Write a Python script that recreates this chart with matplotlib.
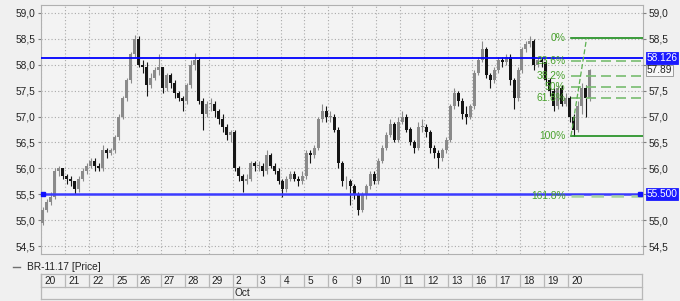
import matplotlib
matplotlib.use("Agg")
import matplotlib.pyplot as plt
import matplotlib.transforms as mtransforms
from matplotlib.ticker import FuncFormatter
import numpy as np

plt.rcParams['font.family'] = ['Liberation Sans', 'DejaVu Sans']

# trading days shown on the date strip
day_labels = ["20", "21", "22", "25", "26", "27", "28", "29",
              "2", "3", "4", "5", "6", "9", "10", "11", "12", "13",
              "16", "17", "18", "19", "20"]
month_label = "Oct"
month_start = 8          # index of 2 Oct

# intraday candles, 6 per day (open of first bar, then close/high/low)
open0 = 54.95
close = [
    55.20, 55.35, 55.45, 55.95, 56.00, 55.85,
    55.80, 55.75, 55.60, 55.80, 55.95, 56.05,
    56.15, 56.05, 56.00, 56.35, 56.30, 56.35,
    56.60, 57.00, 57.35, 57.70, 58.20, 58.50,
    58.00, 57.95, 57.60, 57.75, 57.90, 57.95,
    57.55, 57.80, 57.65, 57.45, 57.35, 57.30,
    57.60, 58.00, 58.10, 57.30, 57.05, 57.25,
    57.25, 57.10, 56.95, 56.80, 56.65, 56.70,
    56.00, 55.85, 55.75, 55.80, 56.10, 56.05,
    56.05, 55.95, 56.25, 56.05, 55.95, 55.75,
    55.60, 55.80, 55.90, 55.80, 55.75, 55.85,
    56.30, 56.25, 56.40, 56.95, 57.10, 57.00,
    57.00, 56.75, 56.10, 55.75, 55.75, 55.65,
    55.50, 55.20, 55.50, 55.65, 55.90, 55.75,
    56.15, 56.40, 56.65, 56.85, 56.55, 56.90,
    57.00, 56.75, 56.50, 56.40, 56.80, 56.80,
    56.70, 56.40, 56.30, 56.20, 56.35, 56.55,
    57.20, 57.45, 57.30, 57.05, 57.00, 57.20,
    57.85, 58.10, 58.30, 57.80, 57.70, 57.90,
    58.10, 58.05, 58.15, 57.70, 57.35, 57.90,
    58.30, 58.40, 58.45, 58.00, 58.10, 58.05,
    57.70, 57.50, 57.20, 57.55, 57.25, 57.35,
    57.00, 56.75, 57.20, 57.55, 57.35, 57.89,
]
high = [
    55.25, 55.40, 55.55, 56.00, 56.05, 56.00,
    55.90, 55.85, 55.75, 55.85, 56.00, 56.10,
    56.20, 56.20, 56.10, 56.45, 56.40, 56.40,
    56.65, 57.05, 57.40, 57.75, 58.25, 58.58,
    58.55, 58.10, 58.05, 57.85, 57.95, 58.20,
    57.95, 57.85, 57.85, 57.70, 57.50, 57.40,
    57.65, 58.10, 58.22, 58.15, 57.35, 57.30,
    57.35, 57.30, 57.15, 57.05, 56.85, 56.75,
    56.75, 56.05, 55.90, 55.90, 56.15, 56.15,
    56.15, 56.10, 56.35, 56.30, 56.10, 56.00,
    55.80, 55.85, 55.95, 55.95, 55.85, 55.95,
    56.35, 56.35, 56.45, 57.00, 57.25, 57.20,
    57.10, 57.05, 56.80, 56.15, 55.85, 55.80,
    55.70, 55.55, 55.55, 55.70, 55.95, 55.95,
    56.20, 56.45, 56.70, 56.95, 56.90, 57.00,
    57.10, 57.05, 56.80, 56.55, 56.90, 56.95,
    56.85, 56.75, 56.45, 56.35, 56.40, 56.60,
    57.25, 57.55, 57.50, 57.35, 57.20, 57.25,
    57.90, 58.15, 58.45, 58.35, 57.85, 57.95,
    58.15, 58.15, 58.20, 58.20, 57.75, 57.95,
    58.35, 58.45, 58.55, 58.50, 58.15, 58.15,
    58.10, 57.75, 57.55, 57.60, 57.60, 57.45,
    57.40, 57.05, 57.30, 57.65, 57.60, 57.92,
]
low = [
    54.90, 55.15, 55.30, 55.40, 55.85, 55.80,
    55.70, 55.65, 55.50, 55.55, 55.75, 55.90,
    56.00, 55.95, 55.95, 55.95, 56.20, 56.25,
    56.30, 56.55, 56.95, 57.30, 57.65, 58.15,
    57.95, 57.85, 57.40, 57.55, 57.70, 57.80,
    57.45, 57.50, 57.55, 57.35, 57.30, 57.10,
    57.25, 57.55, 57.90, 57.25, 56.75, 57.00,
    57.10, 57.00, 56.85, 56.70, 56.55, 56.50,
    55.95, 55.75, 55.55, 55.70, 55.75, 55.95,
    55.95, 55.85, 55.90, 56.00, 55.90, 55.70,
    55.45, 55.55, 55.75, 55.75, 55.65, 55.70,
    55.80, 56.10, 56.20, 56.35, 56.90, 56.90,
    56.90, 56.70, 56.00, 55.65, 55.60, 55.30,
    55.40, 55.10, 55.15, 55.40, 55.60, 55.70,
    55.70, 56.10, 56.35, 56.60, 56.50, 56.50,
    56.85, 56.70, 56.45, 56.30, 56.35, 56.70,
    56.60, 56.30, 56.20, 56.00, 56.15, 56.30,
    56.50, 57.15, 57.20, 56.95, 56.85, 56.95,
    57.15, 57.80, 58.05, 57.75, 57.55, 57.65,
    57.85, 57.95, 58.00, 57.60, 57.15, 57.30,
    57.85, 58.25, 58.35, 57.90, 57.95, 57.95,
    57.60, 57.40, 57.10, 57.15, 57.20, 57.20,
    56.90, 56.62, 56.70, 57.05, 57.00, 57.30,
]

# horizontal levels and fibonacci retracement
resist = 58.126
support = 55.500
last_price = 57.89
fib_names = ["0%", "23.6%", "38.2%", "50%", "61.8%", "100%", "161.8%"]
fib_levels = [58.51, 58.07, 57.79, 57.57, 57.35, 56.63, 55.47]
fib_trend = ([22.13, 22.78], [56.63, 58.51])
price_ticks = [54.5, 55.0, 55.5, 56.0, 56.5, 57.0, 57.5, 58.0, 58.5, 59.0]

W, H = 680, 301
def fx(px): return px / W
def fy(py): return 1 - py / H

fig = plt.figure(figsize=(6.8, 3.01), dpi=100, facecolor="#f0f0f0")
ax = fig.add_axes([fx(41), fy(254), fx(643) - fx(41), fy(5) - fy(254)])
ax.set_facecolor("#f3f3f3")

BARS = 6
DAY_PX = 23.95
xmax = (643 - 41) / DAY_PX
x = (np.arange(len(close)) + 0.5) / BARS
c = np.array(close)
o = np.array([open0] + close[:-1])
up = c >= o
cols = np.where(up, "#8a8a8a", "#151515")

ax.vlines(x, low, high, colors=cols, lw=0.8, zorder=3)
ax.bar(x, np.maximum(np.abs(c - o), 0.012), bottom=np.minimum(o, c),
       width=0.75 / BARS, color=cols, lw=0, zorder=3)

# levels
ax.axhline(resist, color="#0000ff", lw=1.3, zorder=4)
ax.axhline(support, color="#3a3aff", lw=1.8, zorder=4)
ax.plot([0.1, xmax - 0.12], [support, support], "s", color="#1010ff",
        ms=3.5, zorder=5, clip_on=False)

# fibonacci
for name, lv in zip(fib_names, fib_levels):
    if name in ("0%", "100%"):
        ax.plot([fib_trend[0][0], xmax], [lv, lv], color="#1c8c1c", lw=1.2, zorder=4)
    elif name == "161.8%":
        ax.plot([fib_trend[0][0], xmax], [lv, lv], color="#a8d4a0", lw=1.8,
                dashes=(5, 3), zorder=4)
    else:
        ax.plot([fib_trend[0][0], xmax], [lv, lv], color="#78bc70", lw=1.2,
                dashes=(6, 3), zorder=4)
    ax.text(21.9, lv, name, ha="right", va="center", fontsize=7.4,
            color="#46a02a", zorder=6)
ax.plot(fib_trend[0], fib_trend[1], color="#5cb050", lw=0.9, dashes=(4, 2), zorder=4)

# axes styling
fmt = lambda v: f"{v:.1f}".replace(".", ",")
ax.set_xlim(0, xmax)
ax.set_ylim(54.347, 59.153)
ax.set_xticks(range(len(day_labels)))
ax.set_xticklabels([])
ax.set_yticks(price_ticks)
ax.set_yticklabels([fmt(v) for v in price_ticks])
ax.tick_params(axis="x", length=0)
ax.tick_params(axis="y", length=2, pad=2, labelsize=7.3, color="#808080",
               labelcolor="#222222")
ax.grid(True, color="#aaaaaa", lw=0.8, dashes=(1, 2))
ax.set_axisbelow(True)
for s in ax.spines.values():
    s.set_color("#b0b0b0")
    s.set_linewidth(0.8)

# right scale: labels hidden where the level tags sit
axr = ax.twinx()
axr.set_ylim(ax.get_ylim())
axr.set_yticks(price_ticks)
axr.set_yticklabels(["" if v in (58.0, 55.5) else fmt(v) for v in price_ticks])
axr.tick_params(axis="y", length=2, pad=2, labelsize=7.3, color="#808080",
                labelcolor="#222222")
for s in axr.spines.values():
    s.set_visible(False)

# price tags on the right
tr = mtransforms.blended_transform_factory(axr.transAxes, axr.transData)
for val, txt, fc, tc, ec in [(resist, "58.126", "#1a1aff", "white", "#1a1aff"),
                             (support, "55.500", "#1a1aff", "white", "#1a1aff"),
                             (last_price, "57.89", "#f8f8f8", "#222222", "#909090")]:
    axr.text(1.006, val, txt, transform=tr, ha="left", va="center", fontsize=7.3,
             color=tc, zorder=10, clip_on=False,
             bbox=dict(boxstyle="square,pad=0.08", fc=fc, ec=ec, lw=0.6))

# legend line
fig.lines.append(plt.Line2D([fx(13), fx(20)], [fy(267), fy(267)], color="#707070",
                            lw=1, transform=fig.transFigure))
fig.text(fx(27), fy(267), "BR-11.17 [Price]", ha="left", va="center",
         fontsize=7.3, color="#222222")

# date strip
axd = fig.add_axes([fx(41), fy(299), fx(642) - fx(41), fy(274) - fy(299)])
xr = (642 - 41) / DAY_PX
axd.set_xlim(0, xr)
axd.set_ylim(0, 2)
axd.axis("off")
edge = "#b8b8b8"
for yy in (0, 1, 2):
    axd.plot([0, xr], [yy, yy], color=edge, lw=0.9, clip_on=False)
axd.plot([0, 0], [0, 2], color=edge, lw=0.9, clip_on=False)
axd.plot([xr, xr], [0, 2], color=edge, lw=0.9, clip_on=False)
for i, lab in enumerate(day_labels):
    axd.plot([i, i], [1, 2], color=edge, lw=0.9, clip_on=False)
    axd.text(i + 0.13, 1.45, lab, ha="left", va="center", fontsize=7.3, color="#222222")
axd.plot([month_start, month_start], [0, 1], color=edge, lw=0.9, clip_on=False)
axd.text(month_start + 0.08, 0.45, month_label, ha="left", va="center",
         fontsize=7.3, color="#222222")

fig.savefig("out.png", dpi=100, facecolor=fig.get_facecolor())
